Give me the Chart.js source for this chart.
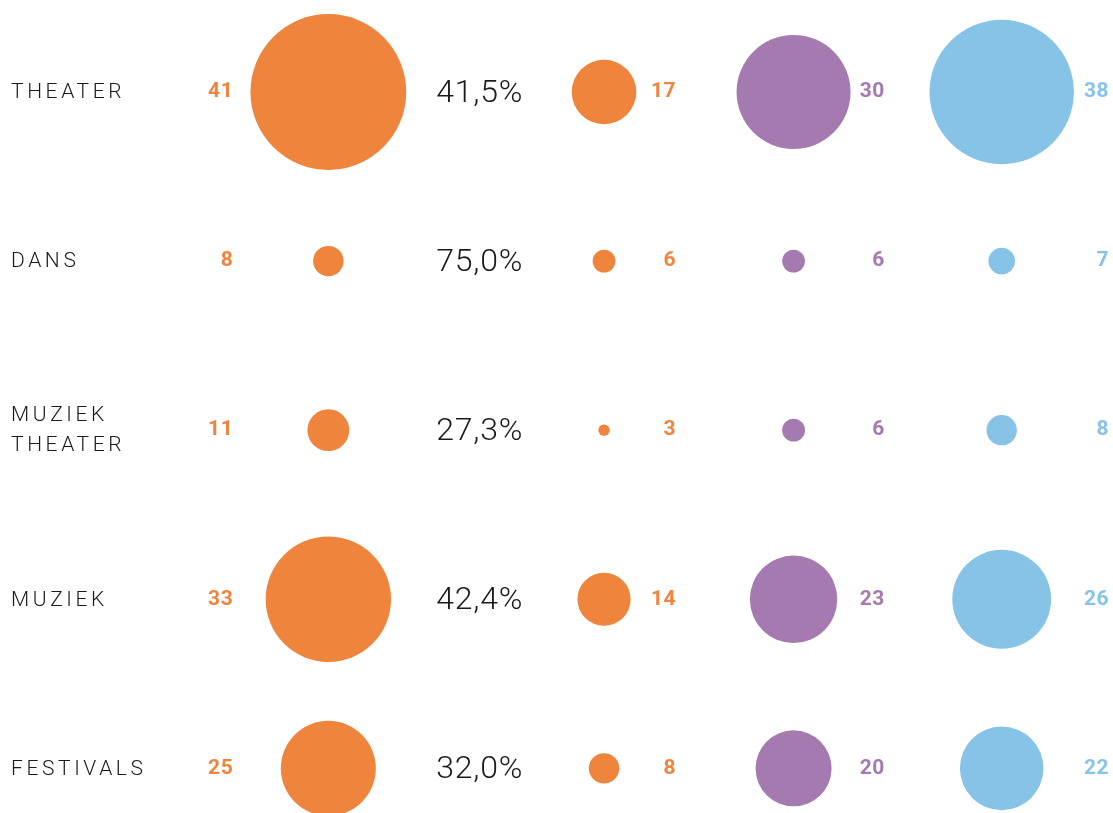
<!DOCTYPE html>
<html>
<head>
<meta charset="utf-8">
<script src="https://cdn.jsdelivr.net/npm/chart.js@4.4.1/dist/chart.umd.min.js"></script>
<style>
html,body{margin:0;padding:0;background:#fff;}
#wrap{width:1113px;height:813px;position:relative;}
</style>
</head>
<body>
<div id="wrap"><canvas id="c"></canvas></div>
<script>
// ---- data ----
const categories = [["THEATER"], ["DANS"], ["MUZIEK", "THEATER"], ["MUZIEK"], ["FESTIVALS"]];
const totalValues = [41, 8, 11, 33, 25];
const subsetValues = [17, 6, 3, 14, 8];
const purpleValues = [30, 6, 6, 23, 20];
const blueValues = [38, 7, 8, 26, 22];
const percentLabels = ["41,5%", "75,0%", "27,3%", "42,4%", "32,0%"];

// ---- style / layout ----
const ORANGE = '#EF843C', PURPLE = '#A57AB0', BLUE = '#86C3E6';
const PX_PER_UNIT = 1.9;              // bubble radius per value unit
const colX = [29.5, 54.27, 71.3, 90.0]; // column centres in % of width
const labelRight = [20.95, 60.75, 79.5, 99.65]; // right edges of value labels (% width)
const percentX = 43.1;

function makeDataset(values, col, color) {
  return {
    data: values.map((v, i) => ({x: colX[col], y: i, v: v})),
    backgroundColor: color,
    borderWidth: 0,
    hoverBorderWidth: 0,
    radius: ctx => (ctx.raw ? ctx.raw.v * PX_PER_UNIT : 0),
    hoverRadius: 0,
    clip: false
  };
}

const textPlugin = {
  id: 'texts',
  afterDatasetsDraw(chart) {
    const ctx = chart.ctx;
    const xs = chart.scales.x, ys = chart.scales.y;
    ctx.save();
    categories.forEach((lines, i) => {
      const y = ys.getPixelForValue(i);
      // category labels
      ctx.fillStyle = '#1a1a1a';
      ctx.font = '300 21px Roboto';
      ctx.letterSpacing = '3.6px';
      ctx.textAlign = 'left';
      ctx.textBaseline = 'middle';
      const lh = 30;
      lines.forEach((t, k) => {
        ctx.fillText(t, 11, y + 1 + (k - (lines.length - 1) / 2) * lh);
      });
      ctx.letterSpacing = '0px';
      // percentage
      ctx.font = '300 32px Roboto';
      ctx.letterSpacing = '0.8px';
      ctx.textAlign = 'center';
      ctx.fillStyle = '#1a1a1a';
      ctx.fillText(percentLabels[i], xs.getPixelForValue(percentX), y + 2);
      // value labels
      ctx.font = 'bold 21px Roboto';
      ctx.letterSpacing = '0.5px';
      ctx.textAlign = 'right';
      const sets = [[totalValues, ORANGE], [subsetValues, ORANGE], [purpleValues, PURPLE], [blueValues, BLUE]];
      sets.forEach(([vals, col], j) => {
        ctx.fillStyle = col;
        ctx.fillText(String(vals[i]), xs.getPixelForValue(labelRight[j]), y);
      });
      ctx.letterSpacing = '0px';
    });
    ctx.restore();
  }
};

new Chart(document.getElementById('c'), {
  type: 'bubble',
  data: {
    datasets: [
      makeDataset(totalValues, 0, ORANGE),
      makeDataset(subsetValues, 1, ORANGE),
      makeDataset(purpleValues, 2, PURPLE),
      makeDataset(blueValues, 3, BLUE)
    ]
  },
  options: {
    responsive: true,
    maintainAspectRatio: false,
    animation: false,
    events: [],
    layout: {padding: 0, autoPadding: false},
    plugins: {legend: {display: false}, tooltip: {enabled: false}},
    scales: {
      x: {type: 'linear', display: false, min: 0, max: 100},
      y: {type: 'linear', display: false, reverse: true, min: -0.544, max: 4.264}
    }
  },
  plugins: [textPlugin]
});
</script>
</body>
</html>
